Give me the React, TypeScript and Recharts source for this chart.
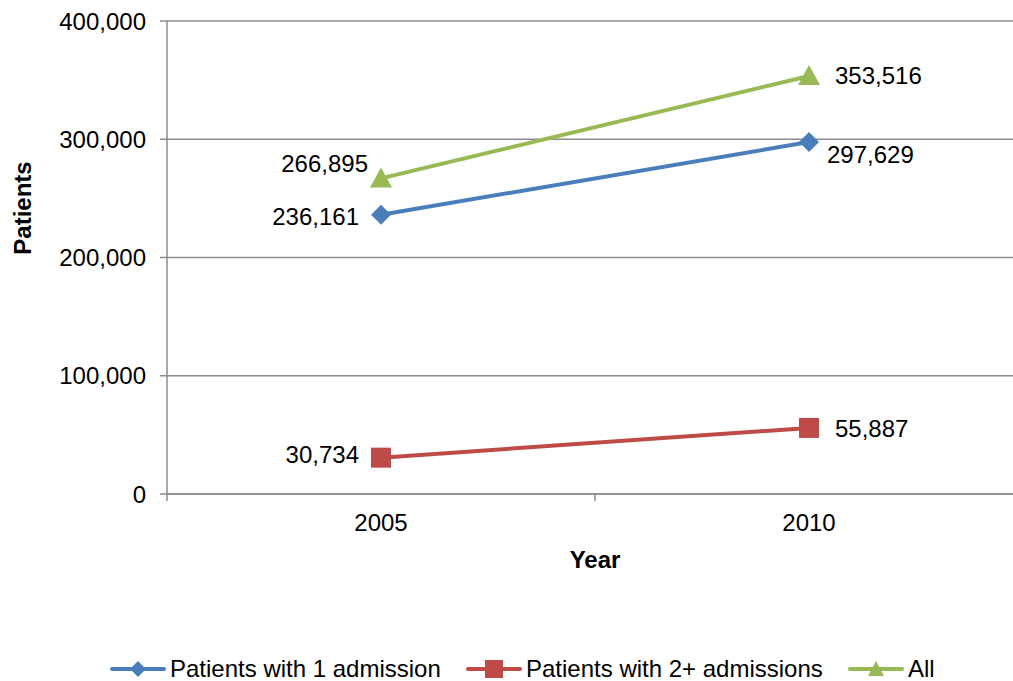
import React from 'react';
import { LineChart, Line, XAxis, YAxis, CartesianGrid, LabelList } from 'recharts';

const years = [2005, 2010];
const oneAdmission = [236161, 297629];
const twoPlusAdmissions = [30734, 55887];
const allPatients = [266895, 353516];
const yTicks = [0, 100000, 200000, 300000, 400000];
const xTicks = [2002.5, 2005, 2007.5, 2010, 2012.5];
const seriesNames = ['Patients with 1 admission', 'Patients with 2+ admissions', 'All'];

const BLUE = '#4A7EBB';
const RED = '#BE4B48';
const GREEN = '#98B954';
const GRID = '#8c8c8c';
const FONT = '"Liberation Sans", Arial, sans-serif';
const FS = 24;

const data = years.map((y, i) => ({
  year: y,
  one: oneAdmission[i],
  two: twoPlusAdmissions[i],
  all: allPatients[i],
}));

const fmt = (v: number) => v.toLocaleString('en-US');

const Diamond = (props: any) => {
  const { cx, cy, fill } = props;
  if (cx == null || cy == null) return null;
  return <polygon points={`${cx},${cy - 10} ${cx + 10},${cy} ${cx},${cy + 10} ${cx - 10},${cy}`} fill={fill} />;
};
const Square = (props: any) => {
  const { cx, cy, fill } = props;
  if (cx == null || cy == null) return null;
  return <rect x={cx - 10} y={cy - 10} width={20} height={20} fill={fill} />;
};
const Triangle = (props: any) => {
  const { cx, cy, fill } = props;
  if (cx == null || cy == null) return null;
  return <polygon points={`${cx},${cy - 11} ${cx + 11},${cy + 9} ${cx - 11},${cy + 9}`} fill={fill} />;
};

const makeLabel = (leftDx: number, leftDy: number, rightDx: number, rightDy: number) => (props: any) => {
  const { x, y, value, index } = props;
  const left = index === 0;
  return (
    <text
      x={left ? x - leftDx : x + rightDx}
      y={left ? y + leftDy : y + rightDy}
      dy="0.355em"
      textAnchor={left ? 'end' : 'start'}
      fontFamily={FONT}
      fontSize={FS}
      fill="#000"
    >
      {fmt(value)}
    </text>
  );
};

const XTick = (props: any) => {
  const { x, y, payload } = props;
  const v = payload.value;
  if (Number.isInteger(v)) {
    return (
      <text x={x} y={y + 37} textAnchor="middle" fontFamily={FONT} fontSize={FS} fill="#000">
        {v}
      </text>
    );
  }
  return <line x1={x} y1={y} x2={x} y2={y + 7} stroke={GRID} strokeWidth={1.5} />;
};

const LegendIcon = ({ color, shape }: { color: string; shape: string }) => (
  <svg width={56} height={20} style={{ display: 'block' }}>
    <line x1={2} y1={10} x2={54} y2={10} stroke={color} strokeWidth={4} strokeLinecap="round" />
    {shape === 'diamond' && <polygon points="28,2 36,10 28,18 20,10" fill={color} />}
    {shape === 'square' && <rect x={19} y={1} width={18} height={18} fill={color} />}
    {shape === 'triangle' && <polygon points="28,2 36,17 20,17" fill={color} />}
  </svg>
);

export default function App() {
  const legendItems = [
    { name: seriesNames[0], color: BLUE, shape: 'diamond', left: 110 },
    { name: seriesNames[1], color: RED, shape: 'square', left: 466 },
    { name: seriesNames[2], color: GREEN, shape: 'triangle', left: 848 },
  ];
  return (
    <div style={{ position: 'absolute', left: 0, top: 0, width: 1013, height: 681, overflow: 'hidden', background: '#fff' }}>
      <LineChart width={1030} height={681} data={data} margin={{ top: 21, right: 7, bottom: 127, left: 0 }}>
        <CartesianGrid vertical={false} stroke={GRID} strokeWidth={1.5} />
        <XAxis
          dataKey="year"
          type="number"
          domain={[2002.5, 2012.5]}
          ticks={xTicks}
          interval={0}
          height={60}
          tickSize={0}
          tickMargin={0}
          tickLine={false}
          axisLine={{ stroke: GRID, strokeWidth: 1.5 }}
          tick={<XTick />}
          label={{
            content: (p: any) => {
              const vb = p.viewBox;
              return (
                <text x={vb.x + vb.width / 2} y={vb.y + 74} textAnchor="middle" fontFamily={FONT} fontSize={FS} fontWeight="bold" fill="#000">
                  Year
                </text>
              );
            },
          }}
        />
        <YAxis
          width={167}
          domain={[0, 400000]}
          ticks={yTicks}
          interval={0}
          tickSize={7}
          tickMargin={14}
          tickFormatter={fmt}
          tick={{ fontFamily: FONT, fontSize: FS, fill: '#000' }}
          tickLine={{ stroke: GRID, strokeWidth: 1.5 }}
          axisLine={{ stroke: GRID, strokeWidth: 1.5 }}
          label={{
            content: (p: any) => {
              const vb = p.viewBox;
              const cx = vb.x + 22;
              const cy = 208;
              return (
                <text x={cx} y={cy} dy="0.355em" textAnchor="middle" transform={`rotate(-90 ${cx} ${cy})`} fontFamily={FONT} fontSize={FS} fontWeight="bold" fill="#000">
                  Patients
                </text>
              );
            },
          }}
        />
        <Line dataKey="one" name={seriesNames[0]} stroke={BLUE} strokeWidth={4} isAnimationActive={false} dot={<Diamond fill={BLUE} />} activeDot={false}>
          <LabelList dataKey="one" content={makeLabel(22, 2, 18, 12)} />
        </Line>
        <Line dataKey="two" name={seriesNames[1]} stroke={RED} strokeWidth={4} isAnimationActive={false} dot={<Square fill={RED} />} activeDot={false}>
          <LabelList dataKey="two" content={makeLabel(22, -3, 26, 1)} />
        </Line>
        <Line dataKey="all" name={seriesNames[2]} stroke={GREEN} strokeWidth={4} isAnimationActive={false} dot={<Triangle fill={GREEN} />} activeDot={false}>
          <LabelList dataKey="all" content={makeLabel(13, -15, 26, 0)} />
        </Line>
      </LineChart>
      {legendItems.map((it) => (
        <div
          key={it.name}
          style={{ position: 'absolute', left: it.left, top: 655, height: 28, display: 'flex', alignItems: 'center', fontFamily: FONT, fontSize: FS, color: '#000', whiteSpace: 'nowrap' }}
        >
          <LegendIcon color={it.color} shape={it.shape} />
          <span style={{ marginLeft: 4 }}>{it.name}</span>
        </div>
      ))}
    </div>
  );
}
